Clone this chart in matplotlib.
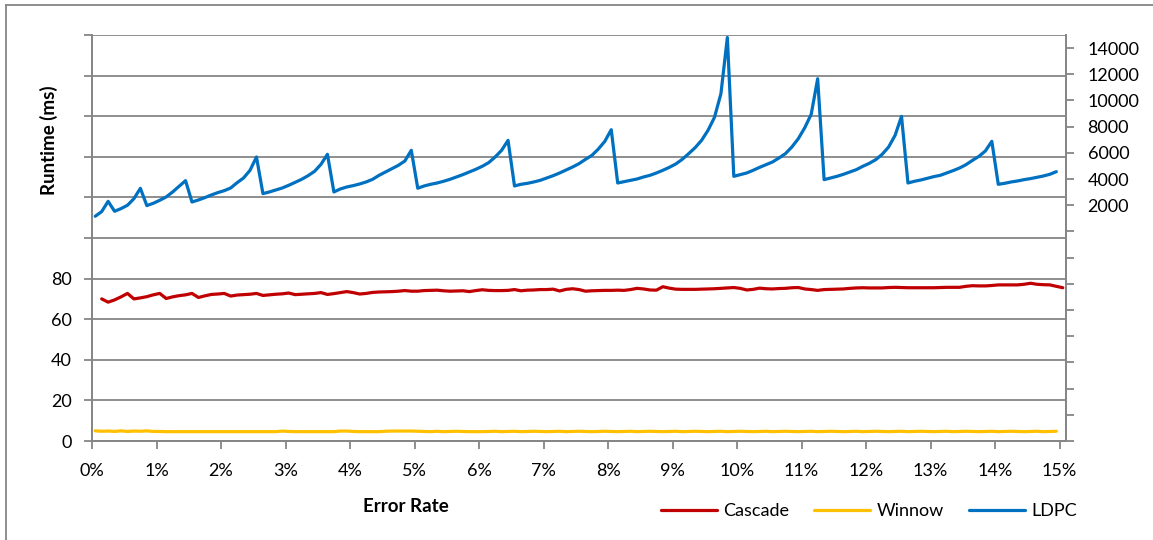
import matplotlib
matplotlib.use("Agg")
import matplotlib.pyplot as plt
import matplotlib.lines as mlines
from matplotlib.ticker import FixedLocator, FuncFormatter

plt.rcParams['font.family'] = ['Lato', 'DejaVu Sans']

# error rate in percent, one point every 0.1%
rate = [round(0.05 + 0.1 * k, 2) for k in range(150)]
rate_cascade = [round(0.15 + 0.1 * k, 2) for k in range(150)]

# runtime (ms), left axis
cascade = [
    70.0, 68.4, 69.5, 71.0, 72.7, 70.0, 70.5, 71.1, 72.0, 72.7,
    70.2, 71.0, 71.6, 72.0, 72.7, 70.7, 71.5, 72.2, 72.4, 72.7,
    71.4, 71.9, 72.1, 72.3, 72.7, 71.7, 72.0, 72.3, 72.5, 72.9,
    72.1, 72.3, 72.5, 72.7, 73.1, 72.2, 72.6, 73.1, 73.6, 73.1,
    72.4, 72.7, 73.2, 73.4, 73.5, 73.6, 73.8, 74.1, 73.8, 73.8,
    74.1, 74.2, 74.3, 74.0, 73.8, 73.9, 74.0, 73.6, 74.1, 74.5,
    74.2, 74.1, 74.1, 74.2, 74.6, 74.0, 74.3, 74.4, 74.6, 74.6,
    74.8, 73.9, 74.7, 75.0, 74.6, 73.8, 74.0, 74.1, 74.2, 74.2,
    74.3, 74.2, 74.6, 75.2, 74.9, 74.4, 74.3, 76.0, 75.3, 74.8,
    74.7, 74.7, 74.7, 74.8, 74.9, 75.0, 75.2, 75.4, 75.6, 75.2,
    74.4, 74.7, 75.3, 75.0, 74.9, 75.1, 75.2, 75.5, 75.6, 74.9,
    74.6, 74.2, 74.6, 74.7, 74.8, 74.9, 75.2, 75.4, 75.5, 75.4,
    75.4, 75.4, 75.6, 75.7, 75.6, 75.5, 75.5, 75.5, 75.5, 75.5,
    75.6, 75.7, 75.7, 75.7, 76.2, 76.5, 76.4, 76.4, 76.6, 76.9,
    76.9, 76.9, 76.9, 77.2, 77.7, 77.2, 77.0, 76.9, 76.2, 75.5,
]

winnow = [
    5.0, 4.8, 4.9, 4.7, 5.0, 4.7, 4.9, 4.8, 5.0, 4.7,
    4.7, 4.6, 4.6, 4.6, 4.6, 4.6, 4.6, 4.6, 4.6, 4.6,
    4.6, 4.6, 4.6, 4.6, 4.6, 4.6, 4.6, 4.6, 4.6, 4.9,
    4.7, 4.6, 4.6, 4.6, 4.6, 4.6, 4.6, 4.6, 4.9, 4.9,
    4.7, 4.6, 4.6, 4.6, 4.6, 4.8, 4.9, 4.9, 4.9, 4.9,
    4.8, 4.7, 4.6, 4.8, 4.6, 4.7, 4.8, 4.7, 4.6, 4.6,
    4.6, 4.7, 4.8, 4.6, 4.7, 4.8, 4.6, 4.7, 4.8, 4.7,
    4.6, 4.7, 4.8, 4.6, 4.7, 4.8, 4.7, 4.6, 4.7, 4.8,
    4.7, 4.6, 4.7, 4.8, 4.6, 4.7, 4.8, 4.7, 4.6, 4.7,
    4.8, 4.6, 4.7, 4.8, 4.7, 4.6, 4.7, 4.8, 4.6, 4.7,
    4.8, 4.7, 4.6, 4.7, 4.8, 4.6, 4.7, 4.8, 4.7, 4.6,
    4.7, 4.8, 4.6, 4.7, 4.8, 4.7, 4.6, 4.7, 4.8, 4.6,
    4.7, 4.8, 4.7, 4.6, 4.7, 4.8, 4.6, 4.7, 4.8, 4.7,
    4.6, 4.7, 4.8, 4.6, 4.7, 4.8, 4.7, 4.6, 4.7, 4.8,
    4.6, 4.7, 4.8, 4.7, 4.6, 4.7, 4.8, 4.6, 4.7, 4.8,
]

# runtime (ms), right axis
ldpc = [
    1160, 1515, 2300, 1540, 1745, 2000, 2505, 3295, 1975, 2150,
    2380, 2635, 3015, 3445, 3880, 2250, 2405, 2585, 2785, 2965,
    3115, 3320, 3725, 4085, 4670, 5685, 2890, 3015, 3170, 3320,
    3525, 3755, 3980, 4260, 4590, 5125, 5890, 3015, 3245, 3395,
    3500, 3625, 3780, 3980, 4285, 4540, 4795, 5050, 5380, 6195,
    3300, 3475, 3600, 3700, 3830, 3980, 4160, 4340, 4540, 4745,
    4975, 5255, 5685, 6195, 6955, 3475, 3600, 3675, 3780, 3905,
    4085, 4260, 4465, 4695, 4920, 5175, 5505, 5810, 6295, 6880,
    7770, 3700, 3805, 3905, 4005, 4160, 4285, 4465, 4670, 4895,
    5150, 5505, 5940, 6395, 6955, 7720, 8710, 10515, 14810, 4210,
    4340, 4465, 4670, 4895, 5100, 5305, 5610, 5940, 6450, 7085,
    7920, 8950, 11660, 3955, 4085, 4210, 4365, 4540, 4720, 4975,
    5200, 5480, 5890, 6450, 7335, 8785, 3700, 3830, 3930, 4060,
    4185, 4285, 4465, 4645, 4845, 5100, 5430, 5735, 6145, 6880,
    3600, 3675, 3780, 3855, 3955, 4035, 4135, 4235, 4365, 4565,
]

x_ticks = list(range(16))
left_ticks = list(range(0, 201, 20))
right_ticks = list(range(-16000, 14001, 2000))

W, H = 1153, 540
fig = plt.figure(figsize=(W / 100, H / 100), dpi=100)
grey = '#868686'
fs = 13

# chart border (excel chart area)
fig.add_artist(mlines.Line2D([6 / W, 6 / W], [-0.01, 1 - 5 / H], transform=fig.transFigure,
                             color=grey, lw=1.3))
fig.add_artist(mlines.Line2D([6 / W, 1.01], [1 - 5 / H, 1 - 5 / H], transform=fig.transFigure,
                             color=grey, lw=1.3))

ax = fig.add_axes([92 / W, 1 - 441 / H, (1066 - 92) / W, (441 - 35) / H])
ax2 = ax.twinx()

l1, = ax.plot(rate_cascade, cascade, color='#C00000', lw=2.3, label='Cascade', solid_capstyle='round')
l2, = ax.plot(rate, winnow, color='#FFC000', lw=2.3, label='Winnow', solid_capstyle='round')
l3, = ax2.plot(rate, ldpc, color='#0070C0', lw=2.3, label='LDPC', solid_capstyle='round')

ax.set_xlim(0, 15.1)
ax.set_ylim(0, 200)
ax2.set_ylim(-16000, 15000)

ax.xaxis.set_major_locator(FixedLocator(x_ticks))
ax.xaxis.set_major_formatter(FuncFormatter(lambda v, p: '%d%%' % round(v)))
ax.yaxis.set_major_locator(FixedLocator(left_ticks))
ax.yaxis.set_major_formatter(FuncFormatter(lambda v, p: '%d' % v if v <= 80 else ''))
ax2.yaxis.set_major_locator(FixedLocator(right_ticks))
ax2.yaxis.set_major_formatter(FuncFormatter(lambda v, p: '%d' % v if 2000 <= v <= 14000 else ''))

ax.grid(axis='y', color=grey, lw=1.3)
ax.set_axisbelow(True)

for a in (ax, ax2):
    for s in a.spines.values():
        s.set_color(grey)
        s.set_linewidth(1.3)
    a.spines['top'].set_visible(False)
    a.tick_params(colors=grey, labelcolor='black', labelsize=fs, length=5.5, width=1.3,
                  direction='out')
ax.tick_params(axis='y', pad=9)
ax.tick_params(axis='x', pad=10)
ax2.tick_params(axis='y', pad=10)

fig.text(49 / W, 1 - 140 / H, 'Runtime (ms)', rotation=90, ha='center', va='center',
         fontsize=13.5, fontweight='bold')
fig.text(406 / W, 1 - 507 / H, 'Error Rate', ha='center', va='center',
         fontsize=13.5, fontweight='bold')

fig.legend(handles=[l1, l2, l3], loc='center', bbox_to_anchor=(869 / W, 1 - 511 / H),
           ncol=3, frameon=False, fontsize=fs, handlelength=3.1, handletextpad=0.35,
           columnspacing=1.4)

fig.savefig('out.png', dpi=100)
